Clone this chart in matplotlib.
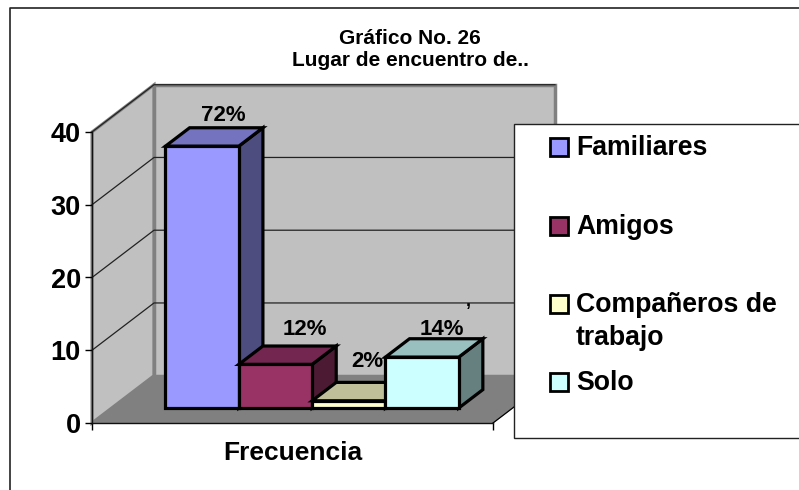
import matplotlib
matplotlib.use('Agg')
import matplotlib.pyplot as plt
from matplotlib.patches import Polygon, Rectangle

plt.rcParams['font.family'] = ['Liberation Sans', 'DejaVu Sans']
plt.rcParams['font.weight'] = 'bold'

# Data
categories = ['Familiares', 'Amigos', 'Compañeros de\ntrabajo', 'Solo']
values = [36, 6, 1, 7]
pct_labels = ['72%', '12%', '2%', '14%']
front_colors = ['#9999ff', '#993366', '#ffffcc', '#ccffff']
top_colors = ['#7373bf', '#732650', '#bfbf99', '#99bfbf']
side_colors = ['#4d4d80', '#4d1a33', '#808066', '#668080']
y_ticks = [0, 10, 20, 30, 40]
title_lines = 'Gráfico No. 26\nLugar de encuentro de..'

fig = plt.figure(figsize=(7.99, 4.9), dpi=100)

# Overlay in pixels for outer frame and legend box
pix = fig.add_axes([0, 0, 1, 1], zorder=3)
pix.set_xlim(0, 799)
pix.set_ylim(490, 0)
pix.axis('off')
pix.patch.set_alpha(0)

# Main chart, axes box is the front plane of the 3D chart
ax = fig.add_axes([92 / 799, (490 - 423) / 490, 401 / 799, 291 / 490], zorder=2)
ax.patch.set_alpha(0)
ax.set_xlim(-1.235, 4.235)
ax.set_ylim(0, 40)

# one unit of depth in data units
DX = 0.846
DY = 6.5


def proj(x, y, d=0.0):
    return (x + d * DX, y + d * DY)


def face(pts, color, ec='black', lw=2.3, z=3):
    ax.add_patch(Polygon([proj(*p) for p in pts], closed=True, fc=color, ec=ec,
                         lw=lw, clip_on=False, zorder=z, joinstyle='miter'))


x0, x1 = ax.get_xlim()
top = y_ticks[-1]

# walls and floor
face([(x0, 0, 0), (x0, top, 0), (x0, top, 1), (x0, 0, 1)], '#c0c0c0', '#808080', 2.2, 1)
face([(x0, 0, 1), (x0, top, 1), (x1, top, 1), (x1, 0, 1)], '#c0c0c0', '#808080', 2.5, 1)
face([(x0, 0, 0), (x1, 0, 0), (x1, 0, 1), (x0, 0, 1)], '#808080', '#808080', 0.5, 1.2)

# gridlines on the walls
for t in y_ticks[1:]:
    xs, ys = zip(proj(x0, t, 0), proj(x0, t, 1), proj(x1, t, 1))
    ax.plot(xs, ys, color='#222222', lw=0.9, clip_on=False, zorder=1.1)
xs, ys = zip(proj(x1, 0, 0), proj(x1, 0, 1))
ax.plot(xs, ys, color='black', lw=0.9, clip_on=False, zorder=1.3)

# bars
d0, d1 = 0.316, 0.705
w = 0.5
for i, v in enumerate(values):
    a, b = i - w, i + w
    face([(b, 0, d0), (b, 0, d1), (b, v, d1), (b, v, d0)], side_colors[i])
    face([(a, v, d0), (b, v, d0), (b, v, d1), (a, v, d1)], top_colors[i])
    face([(a, 0, d0), (b, 0, d0), (b, v, d0), (a, v, d0)], front_colors[i])

# percent labels, nudged in points from the bar's back top edge
nudges = [(-2, 9), (3.5, 12), (-4, 15), (-3, 6.5)]
for i, v in enumerate(values):
    ax.annotate(pct_labels[i], xy=proj(i, v, d1), xytext=nudges[i], textcoords='offset points',
                ha='center', va='center', fontsize=16, annotation_clip=False, zorder=6)

# axes
for s in ['top', 'right']:
    ax.spines[s].set_visible(False)
for s in ['left', 'bottom']:
    ax.spines[s].set_linewidth(1.0)
    ax.spines[s].set_color('#111111')
    ax.spines[s].set_zorder(2)
ax.set_yticks(y_ticks)
ax.set_xticks([x0, x1])
ax.set_xticklabels([])
ax.tick_params(axis='y', labelsize=19.5, length=5, width=1, pad=3)
ax.tick_params(axis='x', length=5, width=1)
ax.set_xlabel('Frecuencia', fontsize=19, fontweight='bold', labelpad=4.5)

# outer frame (only left and top are visible in the crop)
pix.plot([9.5, 9.5, 799], [490, 8.5, 8.5], color='#222222', lw=1.2, clip_on=False)

pix.text(410, 49.5, title_lines, ha='center', va='center', fontsize=15, linespacing=1.25)
pix.text(468, 301, ',', ha='center', va='center', fontsize=13)

# legend box
pix.add_patch(Rectangle((514, 123.5), 300, 314, fc='white', ec='#222222', lw=1.0, clip_on=False))
legend_y = [147, 226, 304, 382]
for name, c, y in zip(categories, front_colors, legend_y):
    pix.add_patch(Rectangle((550, y - 9), 18, 18, fc=c, ec='black', lw=2.0))
    if '\n' in name:
        pix.text(576, y - 12, name, ha='left', va='top', fontsize=19.2, linespacing=1.36)
    else:
        pix.text(576, y + 1, name, ha='left', va='center', fontsize=19.2)

fig.savefig('out.png', dpi=100)
